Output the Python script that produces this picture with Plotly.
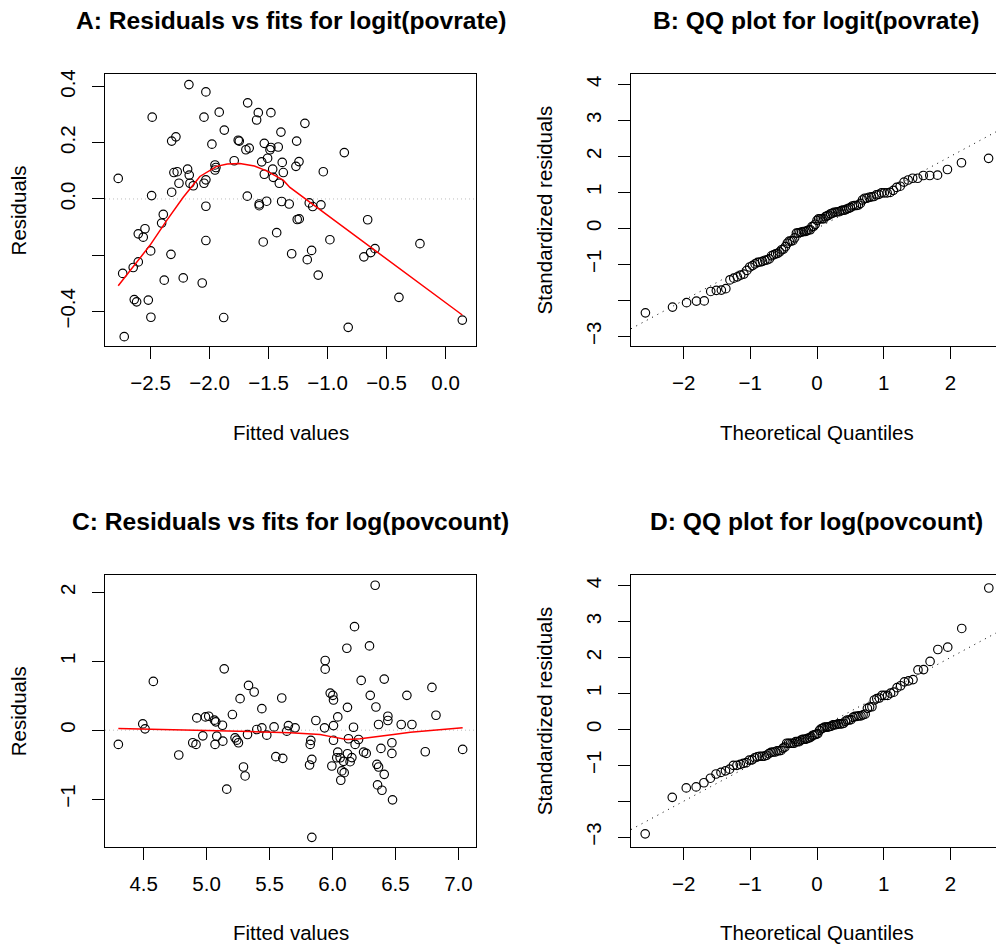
import numpy as np
import plotly.graph_objects as go
from statistics import NormalDist

# ---------------- Panel A: residuals vs fits, logit(povrate) ----------------
fit_a = [-2.774, -2.723, -2.736, -2.647, -2.604, -2.638, -2.618, -2.519, -2.497, -2.604,
         -2.547, -2.562, -2.499, -2.491, -2.486, -2.406, -2.392, -2.384, -2.327, -2.321,
         -2.302, -2.274, -2.259, -2.321, -2.285, -2.223, -2.175, -2.186, -2.172, -2.166,
         -2.138, -2.062, -2.047, -2.031, -2.047, -2.031, -2.031, -2.031, -1.980, -1.954,
         -1.946, -1.954, -1.918, -1.875, -1.880, -1.791, -1.757, -1.748, -1.692, -1.664,
         -1.677, -1.680, -1.587, -1.601, -1.480, -1.579, -1.579, -1.545, -1.516, -1.558,
         -1.536, -1.536, -1.508, -1.488, -1.480, -1.465, -1.460, -1.431, -1.418, -1.409,
         -1.395, -1.384, -1.375, -1.389, -1.325, -1.304, -1.262, -1.268, -1.257, -1.240,
         -1.192, -1.242, -1.036, -0.858, -1.155, -1.126, -1.056, -0.980, -1.135, -1.172,
         -1.079, -0.660, -0.692, -0.635, -0.598, -0.825, -0.395, -0.217, 0.142]
resid_a = [0.073, -0.490, -0.265, -0.244, -0.224, -0.358, -0.366, -0.360, -0.421, -0.124,
           -0.106, -0.136, -0.185, 0.012, 0.291, -0.086, -0.055, -0.289, -0.197, 0.024,
           0.094, 0.097, 0.056, 0.206, 0.221, -0.281, 0.407, 0.106, 0.085, 0.056,
           0.047, -0.299, 0.291, 0.381, 0.056, 0.068, -0.026, -0.148, 0.195, 0.121,
           0.112, 0.103, 0.309, 0.245, -0.422, 0.136, 0.209, 0.206, 0.175, 0.181,
           0.342, 0.010, 0.307, 0.281, 0.307, -0.018, -0.024, -0.153, -0.008, 0.132,
           0.198, 0.088, 0.145, 0.175, 0.183, 0.106, 0.077, -0.120, 0.185, 0.056,
           0.238, 0.130, 0.094, -0.009, -0.018, -0.195, 0.206, 0.116, -0.073, -0.071,
           0.269, 0.133, 0.097, 0.165, -0.014, -0.027, -0.021, -0.145, -0.183, -0.216,
           -0.271, -0.074, -0.206, -0.191, -0.177, -0.457, -0.350, -0.159, -0.431]
smooth_a_x = [-2.774, -2.646, -2.505, -2.364, -2.223, -2.082, -1.940, -1.850, -1.743,
              -1.620, -1.517, -1.376, -1.319, -1.036, -0.641, 0.142]
smooth_a_y = [-0.309, -0.242, -0.165, -0.077, 0.006, 0.080, 0.116, 0.124, 0.126,
              0.117, 0.100, 0.067, 0.041, -0.047, -0.170, -0.413]
sigma_a = 0.209  # residual scale used for standardized residuals (panel B)

# ---------------- Panel C: residuals vs fits, log(povcount) ----------------
fit_c = [4.299, 4.493, 4.511, 4.577, 4.779, 4.890, 4.916, 4.922, 4.970, 4.991,
         5.017, 5.062, 5.073, 5.081, 5.067, 5.129, 5.126, 5.140, 5.160, 5.205,
         5.226, 5.240, 5.253, 5.266, 5.293, 5.306, 5.325, 5.333, 5.378, 5.399,
         5.439, 5.439, 5.478, 5.536, 5.550, 5.605, 5.597, 5.637, 5.650, 5.703,
         5.828, 5.823, 5.836, 5.818, 5.836, 5.868, 5.937, 5.942, 5.942, 5.982,
         6.003, 6.008, 5.995, 6.008, 6.008, 6.042, 6.042, 6.034, 6.061, 6.074,
         6.093, 6.066, 6.114, 6.119, 6.127, 6.119, 6.140, 6.154, 6.167, 6.175,
         6.180, 6.207, 6.228, 6.247, 6.268, 6.294, 6.300, 6.339, 6.345, 6.353,
         6.366, 6.358, 6.366, 6.385, 6.393, 6.411, 6.411, 6.440, 6.440, 6.472,
         6.472, 6.477, 6.546, 6.591, 6.631, 6.737, 6.790, 6.822, 7.034, 6.088]
resid_c = [-0.207, 0.091, 0.019, 0.708, -0.361, -0.183, -0.207, 0.178, -0.082, 0.193,
           0.202, 0.145, 0.121, -0.087, -0.207, -0.159, 0.072, 0.891, -0.857, 0.227,
           -0.111, -0.145, -0.183, 0.458, -0.535, -0.665, -0.063, 0.650, 0.554, 0.010,
           0.313, 0.034, -0.072, 0.048, -0.385, -0.409, 0.467, -0.014, 0.067, 0.034,
           -0.149, -0.207, -0.424, -0.506, -1.556, 0.140, 0.034, 1.012, 0.886, 0.539,
           0.506, 0.438, -0.520, 0.067, -0.147, 0.193, -0.318, -0.400, -0.400, -0.592,
           -0.617, -0.727, 1.190, 0.332, -0.125, -0.342, -0.458, -0.398, 0.043, 1.503,
           -0.207, -0.135, 0.723, -0.318, -0.337, 1.224, 0.506, 2.105, 0.337, -0.496,
           -0.535, -0.795, 0.082, -0.265, -0.872, 0.742, -0.641, 0.202, 0.140, -0.183,
           -0.337, -1.012, 0.082, 0.506, 0.082, -0.313, 0.621, 0.217, -0.279, -0.453]
smooth_c_x = [4.299, 4.949, 5.346, 5.664, 5.743, 5.902, 6.008, 6.114, 6.220, 6.326,
              6.485, 6.618, 6.856, 7.034]
smooth_c_y = [0.024, 0.000, -0.020, -0.039, -0.048, -0.063, -0.101, -0.135, -0.125,
              -0.096, -0.063, -0.029, 0.005, 0.034]
sigma_c = 0.535  # residual scale used for standardized residuals (panel D)

# ---------------- tick labels ----------------
a_xticks = [-2.5, -2.0, -1.5, -1.0, -0.5, 0.0]
a_xtext = ["\u22122.5", "\u22122.0", "\u22121.5", "\u22121.0", "\u22120.5", "0.0"]
a_yticks = [-0.4, -0.2, 0.0, 0.2, 0.4]
a_ytext = ["\u22120.4", "", "0.0", "0.2", "0.4"]
c_xticks = [4.5, 5.0, 5.5, 6.0, 6.5, 7.0]
c_xtext = ["4.5", "5.0", "5.5", "6.0", "6.5", "7.0"]
c_yticks = [-1, 0, 1, 2]
c_ytext = ["\u22121", "0", "1", "2"]
qq_xticks = [-2, -1, 0, 1, 2]
qq_xtext = ["\u22122", "\u22121", "0", "1", "2"]
qq_yticks = [-3, -2, -1, 0, 1, 2, 3, 4]
qq_ytext = ["\u22123", "", "\u22121", "0", "1", "2", "3", "4"]

titles = ["A: Residuals vs fits for logit(povrate)", "B: QQ plot for logit(povrate)",
          "C: Residuals vs fits for log(povcount)", "D: QQ plot for log(povcount)"]


def qq(values, scale):
    s = np.sort(np.asarray(values, dtype=float)) / scale
    n = len(s)
    nd = NormalDist()
    q = np.array([nd.inv_cdf((i - 0.5) / n) for i in range(1, n + 1)])
    return q, s


qa_x, qa_y = qq(resid_a, sigma_a)
qc_x, qc_y = qq(resid_c, sigma_c)

W, H = 996, 945
FONT = "Liberation Sans, Arial, Helvetica, sans-serif"
FS = 20.5

# panel boxes in pixels
LX = (105, 476)
RX = (631, 996)
TY = (69.7, 343.3)
BY = (573.3, 846.7)


def dom_x(p):
    return [p[0] / W, p[1] / W]


def dom_y(p):
    return [1 - p[1] / H, 1 - p[0] / H]


fig = go.Figure()

mk = dict(symbol="circle-open", size=8.5, color="black", line=dict(width=1.15))

fig.add_trace(go.Scatter(x=fit_a, y=resid_a, mode="markers", marker=mk, xaxis="x", yaxis="y"))
fig.add_trace(go.Scatter(x=smooth_a_x, y=smooth_a_y, mode="lines",
                         line=dict(color="red", width=1.5), xaxis="x", yaxis="y"))
fig.add_trace(go.Scatter(x=qa_x, y=qa_y, mode="markers", marker=mk, xaxis="x2", yaxis="y2"))
fig.add_trace(go.Scatter(x=fit_c, y=resid_c, mode="markers", marker=mk, xaxis="x3", yaxis="y3"))
fig.add_trace(go.Scatter(x=smooth_c_x, y=smooth_c_y, mode="lines",
                         line=dict(color="red", width=1.5), xaxis="x3", yaxis="y3"))
fig.add_trace(go.Scatter(x=qc_x, y=qc_y, mode="markers", marker=mk, xaxis="x4", yaxis="y4"))

qq_range = [(631 - 817) / 66.7, (996 - 817) / 66.7]


def xa(domain, rng, vals, text, anchor, mirror=True, standoff=6):
    return dict(domain=domain, range=rng, tickvals=vals, ticktext=text, showline=True,
                linecolor="black", linewidth=1, mirror=mirror, ticks="outside", ticklen=12,
                tickwidth=1, tickcolor="black", showgrid=False, zeroline=False,
                tickfont=dict(family=FONT, size=FS, color="black"),
                ticklabelstandoff=standoff, fixedrange=True, anchor=anchor)


def ya(domain, rng, vals, text, anchor, mirror=True):
    d = xa(domain, rng, vals, text, anchor, mirror, standoff=9)
    d["tickangle"] = -90
    return d


fig.update_layout(
    width=W, height=H, margin=dict(l=0, r=0, t=0, b=0),
    paper_bgcolor="white", plot_bgcolor="white", showlegend=False,
    xaxis=xa(dom_x(LX), [-2.886, 0.258], a_xticks, a_xtext, "y"),
    yaxis=ya(dom_y(TY), [-0.525, 0.4435], a_yticks, a_ytext, "x"),
    xaxis2=xa(dom_x(RX), qq_range, qq_xticks, qq_xtext, "y2"),
    yaxis2=ya(dom_y(TY), [-3.28, 4.28], qq_yticks, qq_ytext, "x2", mirror=False),
    xaxis3=xa(dom_x(LX), [4.193, 7.140], c_xticks, c_xtext, "y3"),
    yaxis3=ya(dom_y(BY), [-1.70, 2.25], c_yticks, c_ytext, "x3"),
    xaxis4=xa(dom_x(RX), qq_range, qq_xticks, qq_xtext, "y4"),
    yaxis4=ya(dom_y(BY), [-3.28, 4.29], qq_yticks, qq_ytext, "x4", mirror=False),
)

# reference lines
for xr, yr in [("x", "y"), ("x3", "y3")]:
    fig.add_shape(type="line", xref=xr + " domain", yref=yr, x0=0, x1=1, y0=0, y1=0,
                  line=dict(color="#bebebe", width=1, dash="1px,3px"), layer="below")
for xr, yr in [("x2", "y2"), ("x4", "y4")]:
    fig.add_shape(type="line", xref=xr, yref=yr, x0=qq_range[0], y0=qq_range[0],
                  x1=qq_range[1], y1=qq_range[1],
                  line=dict(color="black", width=1, dash="1px,5px"), layer="below")

# titles and axis labels
centers_x = [(LX[0] + LX[1]) / 2, (631 + 1002) / 2]
rows = [TY, BY]
k = 0
for r in range(2):
    for c in range(2):
        cx = centers_x[c]
        box = rows[r]
        fig.add_annotation(text="<b>" + titles[k] + "</b>", x=cx / W, y=1 - (box[0] - 54) / H,
                           xref="paper", yref="paper", showarrow=False, xanchor="center",
                           yanchor="middle", font=dict(family=FONT, size=24.6, color="black"))
        xlabel = "Fitted values" if c == 0 else "Theoretical Quantiles"
        ylabel = "Residuals" if c == 0 else "Standardized residuals"
        fig.add_annotation(text=xlabel, x=cx / W, y=1 - (box[1] + 86) / H,
                           xref="paper", yref="paper", showarrow=False, xanchor="center",
                           yanchor="middle", borderpad=0,
                           font=dict(family=FONT, size=FS, color="black"))
        lx = (LX[0] if c == 0 else RX[0]) - 87
        fig.add_annotation(text=ylabel, x=lx / W, y=1 - ((box[0] + box[1]) / 2) / H,
                           xref="paper", yref="paper", showarrow=False, xanchor="center",
                           yanchor="middle", textangle=-90,
                           font=dict(family=FONT, size=FS, color="black"))
        k += 1

fig.write_html("out.html")
